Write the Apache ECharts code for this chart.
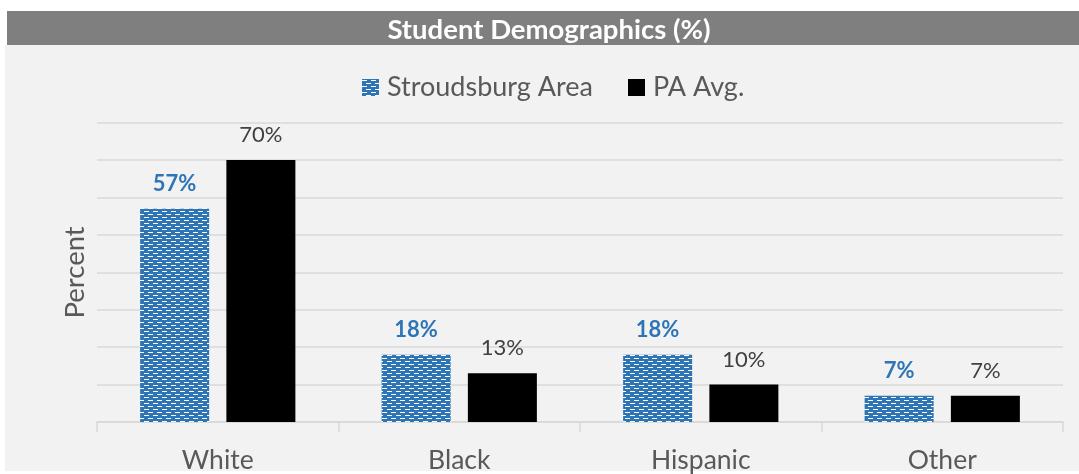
<!DOCTYPE html>
<html>
<head>
<meta charset="utf-8">
<script src="https://cdn.jsdelivr.net/npm/echarts@6/dist/echarts.min.js"></script>
<style>html,body{margin:0;padding:0;background:#fff;}#c{width:1079px;height:474px;}</style>
</head>
<body>
<div id="c"></div>
<script>
const categories = ['White', 'Black', 'Hispanic', 'Other'];
const stroudsburg = [57, 18, 18, 7];
const paAvg = [70, 13, 10, 7];
const seriesNames = ['Stroudsburg Area', 'PA Avg.'];
const titleText = 'Student Demographics (%)';
const yName = 'Percent';

function makePattern() {
  const c = document.createElement('canvas');
  c.width = 9; c.height = 6;
  const ctx = c.getContext('2d');
  ctx.fillStyle = '#2E75B6';
  ctx.fillRect(0, 0, 9, 6);
  ctx.fillStyle = '#ffffff';
  ctx.fillRect(0, 1, 5, 1);
  ctx.fillRect(4, 4, 5, 1);
  return c;
}
const pattern = { image: makePattern(), repeat: 'repeat' };

const FONT = 'Lato, "Open Sans", sans-serif';
const chart = echarts.init(document.getElementById('c'), null, { renderer: 'canvas' });
chart.setOption({
  backgroundColor: '#ffffff',
  animation: false,
  graphic: { elements: [
    { type: 'rect', z: -10, shape: { x: 7, y: 11, width: 1072, height: 34 }, style: { fill: '#7f7f7f' } },
    { type: 'rect', z: -10, shape: { x: 5, y: 45, width: 1074, height: 426 }, style: { fill: '#f2f2f2' } }
  ]},
  title: {
    text: titleText, left: 549, top: 16, textAlign: 'center', padding: 0,
    textStyle: { color: '#ffffff', fontFamily: FONT, fontWeight: 'bold', fontSize: 27.5 }
  },
  legend: {
    left: 362, top: 74, itemWidth: 17, itemHeight: 17, itemGap: 35, icon: 'rect', padding: 0,
    textStyle: { color: '#595959', fontFamily: FONT, fontSize: 27, padding: [0, 0, 0, 3] },
    data: seriesNames
  },
  grid: { left: 97, right: 16, top: 122.7, bottom: 51.3 },
  xAxis: {
    type: 'category', data: categories,
    axisLine: { lineStyle: { color: '#d9d9d9', width: 1.5 } },
    axisTick: { show: true, length: 10, lineStyle: { color: '#d9d9d9', width: 1.5 } },
    axisLabel: { color: '#595959', fontFamily: FONT, fontSize: 26.5, margin: 25 }
  },
  yAxis: {
    type: 'value', min: 0, max: 80, interval: 10,
    name: yName, nameLocation: 'middle', nameGap: 8,
    nameTextStyle: { color: '#595959', fontFamily: FONT, fontSize: 27.5 },
    axisLabel: { show: false }, axisLine: { show: false }, axisTick: { show: false },
    splitLine: { lineStyle: { color: '#d9d9d9', width: 1.5 } }
  },
  series: [
    {
      name: seriesNames[0], type: 'bar', data: stroudsburg, barWidth: 69, barGap: '25%',
      itemStyle: { color: pattern },
      label: { show: true, position: 'top', distance: 14, formatter: '{c}%',
        color: '#2E75B6', fontWeight: 'bold', fontFamily: FONT, fontSize: 22 }
    },
    {
      name: seriesNames[1], type: 'bar', data: paAvg, barWidth: 69, barGap: '25%',
      itemStyle: { color: '#000000' },
      label: { show: true, position: 'top', distance: 14, formatter: '{c}%',
        color: '#404040', fontFamily: FONT, fontSize: 22 }
    }
  ]
});
</script>
</body>
</html>
